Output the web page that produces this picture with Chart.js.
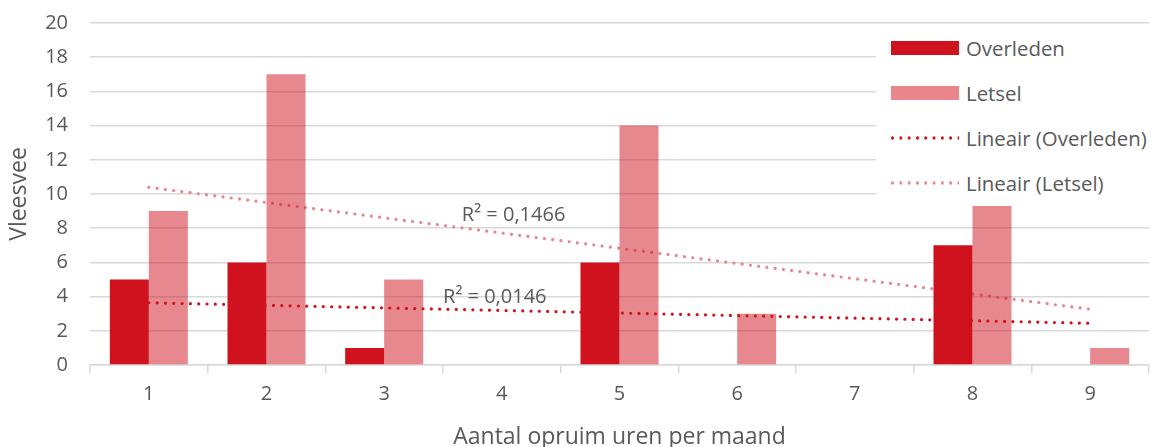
<!DOCTYPE html>
<html><head><meta charset="utf-8">
<script src="https://cdn.jsdelivr.net/npm/chart.js@4"></script>
<style>
html,body{margin:0;padding:0;background:#fff;}
#wrap{position:relative;width:1153px;height:447px;}
#legend{position:absolute;left:876px;top:25px;width:277px;height:177px;background:#fff;font-family:'Open Sans',sans-serif;font-size:20.4px;color:#595959;}
.item{position:absolute;left:15px;height:24px;display:flex;align-items:center;white-space:nowrap;}
.sw{width:68px;margin-right:7px;flex:none;}
</style></head>
<body>
<div id="wrap"><canvas id="c"></canvas><div id="legend"></div></div>
<script>
const categories = ['1','2','3','4','5','6','7','8','9'];
const overleden = [5, 6, 1, 0, 6, 0, 0, 7, 0];
const letsel = [9, 17, 5, 0, 14, 3, 0, 9.3, 1];
const trendOverleden = [3.64, null, null, null, null, null, null, null, 2.44];
const trendLetsel = [10.39, null, null, null, null, null, null, null, 3.26];
const yMin = 0, yMax = 20, yStep = 2;
const r2Labels = [
  {text: 'R² = 0,1466', x: 3.1, y: 8.77},
  {text: 'R² = 0,0146', x: 2.94, y: 3.98}
];
const seriesNames = ['Overleden', 'Letsel', 'Lineair (Overleden)', 'Lineair (Letsel)'];

const DARK = '#D0121E', LIGHT = '#E8868B', LIGHT_A = 'rgba(208,18,30,0.5)';
const FONT = "'Open Sans', sans-serif";
const TXT = '#595959', GRID = '#d9d9d9';

const r2Plugin = {
  id: 'r2',
  afterDatasetsDraw(chart) {
    const {ctx, scales: {x, y}} = chart;
    ctx.save();
    ctx.font = '20px ' + FONT;
    ctx.fillStyle = TXT;
    ctx.textAlign = 'center';
    ctx.textBaseline = 'middle';
    r2Labels.forEach(l => ctx.fillText(l.text, x.getPixelForValue(l.x), y.getPixelForValue(l.y)));
    ctx.restore();
  }
};

const chart = new Chart(document.getElementById('c'), {
  type: 'bar',
  data: {
    labels: categories,
    datasets: [
      {label: seriesNames[0], data: overleden, backgroundColor: DARK, order: 0, categoryPercentage: 0.663, barPercentage: 1},
      {label: seriesNames[1], data: letsel, backgroundColor: LIGHT_A, order: 0, categoryPercentage: 0.663, barPercentage: 1},
      {label: seriesNames[2], type: 'line', data: trendOverleden, spanGaps: true, borderColor: DARK, borderWidth: 3.2,
        borderDash: [0.01, 8.3], borderCapStyle: 'round', pointRadius: 0, fill: false, order: 1},
      {label: seriesNames[3], type: 'line', data: trendLetsel, spanGaps: true, borderColor: LIGHT, borderWidth: 3.2,
        borderDash: [0.01, 8.3], borderCapStyle: 'round', pointRadius: 0, fill: false, order: 1}
    ]
  },
  options: {
    responsive: true,
    maintainAspectRatio: false,
    animation: false,
    layout: {padding: {top: 23, right: 4, left: 0, bottom: 0}},
    plugins: {legend: {display: false}, tooltip: {enabled: false}},
    scales: {
      x: {
        grid: {drawOnChartArea: false, drawTicks: true, tickLength: 8, color: GRID, lineWidth: 1.5, offset: true},
        border: {display: true, color: GRID, width: 1.5},
        ticks: {font: {family: FONT, size: 20}, color: TXT, padding: 9},
        title: {display: true, text: 'Aantal opruim uren per maand', font: {family: FONT, size: 23, lineHeight: 1.0}, color: TXT, padding: {top: 0, bottom: -2}},
        afterFit(s) { s.height = 82; }
      },
      y: {
        min: yMin, max: yMax,
        ticks: {stepSize: yStep, font: {family: FONT, size: 20}, color: TXT, padding: 0},
        grid: {color: GRID, lineWidth: 1.5, drawTicks: true, tickLength: 22, tickColor: 'rgba(0,0,0,0)'},
        border: {display: false},
        title: {display: true, text: 'Vleesvee', font: {family: FONT, size: 23, lineHeight: 1.0}, color: TXT, padding: {top: 8, bottom: 0}},
        afterFit(s) { s.width = 90; }
      }
    }
  },
  plugins: [r2Plugin]
});

// HTML legend built from datasets
const legendEl = document.getElementById('legend');
const centers = [22.7, 68, 112.7, 158];
chart.data.datasets.forEach((ds, i) => {
  const item = document.createElement('div');
  item.className = 'item';
  item.style.top = (centers[i] - 12) + 'px';
  const sw = document.createElement('span');
  sw.className = 'sw';
  if (ds.type === 'line') {
    sw.style.height = '4px';
    sw.style.backgroundImage = 'radial-gradient(circle, ' + ds.borderColor + ' 1.4px, transparent 1.9px)';
    sw.style.backgroundSize = '8.3px 4px';
    sw.style.backgroundPosition = '-2.6px 0';
    sw.style.backgroundRepeat = 'repeat-x';
  } else {
    sw.style.height = '14px';
    sw.style.background = i === 0 ? DARK : LIGHT;
  }
  const t = document.createElement('span');
  t.textContent = ds.label;
  item.appendChild(sw);
  item.appendChild(t);
  legendEl.appendChild(item);
});
</script>
</body></html>
